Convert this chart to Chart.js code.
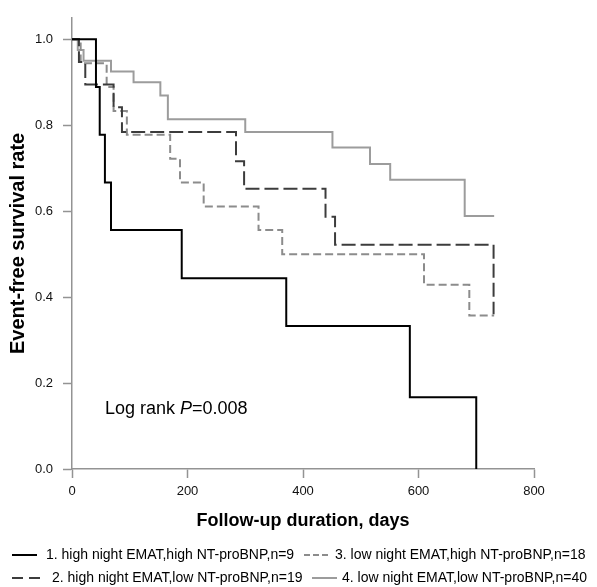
<!DOCTYPE html>
<html>
<head>
<meta charset="utf-8">
<script src="https://cdn.jsdelivr.net/npm/chart.js@4.4.1/dist/chart.umd.min.js"></script>
<style>
  html, body { margin: 0; padding: 0; background: #fff; }
</style>
</head>
<body>
<canvas id="myChart" width="597" height="587"></canvas>
<script>
// Kaplan-Meier steps: day of each step and survival after it
const days1 = [0, 41.5, 48, 57, 67.5, 190, 371, 585, 700];
const surv1 = [1, 0.889, 0.778, 0.667, 0.556, 0.444, 0.333, 0.167, 0];

const days2 = [0, 12, 23, 72, 86.5, 284, 298, 439, 455.5, 730];
const surv2 = [1, 0.947, 0.895, 0.842, 0.784, 0.716, 0.652, 0.587, 0.522, 0.36];

const days3 = [0, 15, 60, 72, 95, 170, 187, 228, 323, 364, 609.5, 688, 731];
const surv3 = [1, 0.944, 0.889, 0.833, 0.778, 0.722, 0.667, 0.611, 0.556, 0.5, 0.429, 0.357, 0.357];

const days4 = [0, 10, 20, 67.5, 106.6, 153, 166, 300, 451, 516, 551, 680, 731];
const surv4 = [1, 0.975, 0.95, 0.925, 0.9, 0.869, 0.814, 0.784, 0.748, 0.71, 0.673, 0.589, 0.589];

const groupLabels = [
    '1. high night EMAT,high NT-proBNP,n=9',
    '2. high night EMAT,low NT-proBNP,n=19',
    '3. low night EMAT,high NT-proBNP,n=18',
    '4. low night EMAT,low NT-proBNP,n=40'
];

const xTicks = [0, 200, 400, 600, 800];
const yTicks = [0, 0.2, 0.4, 0.6, 0.8, 1.0];
const pValueText = '0.008';

const FONT = '"Liberation Sans", Arial, Helvetica, sans-serif';
const AXIS_GREY = '#939393';

function toPoints(days, surv){
    return days.map((d, i) => ({x: d, y: surv[i]}));
}

const series = [
    {days: days1, surv: surv1, color: '#000000', dash: [], width: 2},
    {days: days2, surv: surv2, color: '#3c3c3c', dash: [14, 5], width: 2},
    {days: days3, surv: surv3, color: '#8c8c8c', dash: [8, 4], width: 2},
    {days: days4, surv: surv4, color: '#9c9c9c', dash: [], width: 2}
];

// legend is laid out like the SPSS output: 1 & 3 on first row, 2 & 4 on second
const legendSlots = [
    {idx: 0, lx: 12, lw: 25, dash: [], tx: 46, y: 555},
    {idx: 2, lx: 304, lw: 25, dash: [6, 3], tx: 335, y: 555},
    {idx: 1, lx: 12, lw: 28, dash: [11, 6], tx: 52, y: 578},
    {idx: 3, lx: 312, lw: 25, dash: [], tx: 342, y: 578}
];

const kmLegend = {
    id: 'kmLegend',
    afterDraw(chart){
        const ctx = chart.ctx;
        ctx.save();
        ctx.font = '14px ' + FONT;
        ctx.textBaseline = 'middle';
        legendSlots.forEach(s => {
            const ds = chart.data.datasets[s.idx];
            ctx.strokeStyle = ds.borderColor;
            ctx.lineWidth = ds.borderWidth;
            ctx.setLineDash(s.dash);
            ctx.beginPath();
            ctx.moveTo(s.lx, s.y);
            ctx.lineTo(s.lx + s.lw, s.y);
            ctx.stroke();
            ctx.setLineDash([]);
            ctx.fillStyle = '#000';
            ctx.fillText(ds.label, s.tx, s.y);
        });
        ctx.restore();
    }
};

const logRank = {
    id: 'logRank',
    afterDraw(chart){
        const ctx = chart.ctx;
        const xs = chart.scales.x, ys = chart.scales.y;
        let x = xs.getPixelForValue(57);
        const y = ys.getPixelForValue(0.139);
        ctx.save();
        ctx.fillStyle = '#000';
        ctx.textBaseline = 'middle';
        ctx.font = '18px ' + FONT;
        ctx.fillText('Log rank ', x, y);
        x += ctx.measureText('Log rank ').width;
        ctx.font = 'italic 18px ' + FONT;
        ctx.fillText('P', x, y);
        x += ctx.measureText('P').width;
        ctx.font = '18px ' + FONT;
        ctx.fillText('=' + pValueText, x, y);
        ctx.restore();
    }
};

new Chart(document.getElementById('myChart').getContext('2d'), {
    type: 'line',
    data: {
        datasets: series.map((s, i) => ({
            label: groupLabels[i],
            data: toPoints(s.days, s.surv),
            borderColor: s.color,
            borderWidth: s.width,
            borderDash: s.dash,
            stepped: 'before',
            pointRadius: 0,
            fill: false,
            tension: 0
        }))
    },
    options: {
        responsive: false,
        animation: false,
        events: [],
        layout: {
            padding: {top: 7, right: 63, bottom: 48, left: 0}
        },
        plugins: {
            legend: {display: false},
            tooltip: {enabled: false}
        },
        scales: {
            x: {
                type: 'linear',
                min: 0,
                max: 800,
                afterFit: scale => { scale.height = 70; },
                afterBuildTicks: scale => { scale.ticks = xTicks.map(v => ({value: v})); },
                grid: {drawOnChartArea: false, drawTicks: true, tickLength: 9, tickColor: AXIS_GREY, tickWidth: 1.5},
                border: {display: true, color: AXIS_GREY, width: 1.5},
                ticks: {color: '#111', font: {family: FONT, size: 13}, padding: 6, maxRotation: 0},
                title: {
                    display: true,
                    text: 'Follow-up duration, days',
                    color: '#000',
                    font: {family: FONT, size: 18, weight: 'bold'},
                    padding: {top: 0, bottom: 7}
                }
            },
            y: {
                min: 0,
                max: 1.05,
                afterFit: scale => { scale.width = 72; },
                afterBuildTicks: scale => { scale.ticks = yTicks.map(v => ({value: v})); },
                grid: {drawOnChartArea: false, drawTicks: true, tickLength: 9, tickColor: AXIS_GREY, tickWidth: 1.5},
                border: {display: true, color: AXIS_GREY, width: 1.5},
                ticks: {
                    color: '#111',
                    font: {family: FONT, size: 13},
                    padding: 10,
                    callback: v => v.toFixed(1)
                },
                title: {
                    display: true,
                    text: 'Event-free survival rate',
                    color: '#000',
                    font: {family: FONT, size: 20, weight: 'bold'},
                    padding: {top: 6, bottom: 0}
                }
            }
        }
    },
    plugins: [kmLegend, logRank]
});
</script>
</body>
</html>
